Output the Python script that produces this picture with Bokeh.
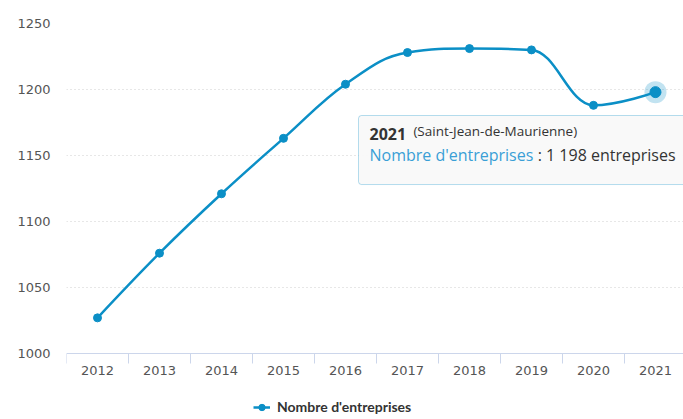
from bokeh.plotting import figure
from bokeh.models import (FixedTicker, Range1d, BoxAnnotation, Label, Legend, LegendItem,
                          ColumnDataSource)
from bokeh.embed import file_html
from bokeh.resources import INLINE

years = [2012, 2013, 2014, 2015, 2016, 2017, 2018, 2019, 2020, 2021]
entreprises = [1027, 1076, 1121, 1163, 1204, 1228, 1231, 1230, 1188, 1198]
y_ticks = [1000, 1050, 1100, 1150, 1200, 1250]
series_name = "Nombre d'entreprises"
commune = "(Saint-Jean-de-Maurienne)"
hover_year = 2021
hover_value = 1198
hover_text = ": 1 198 entreprises"

COLOR = "#0b8fc6"


def spline_controls(xs, ys, smoothing=1.5):
    """Highcharts-like spline control points computed from the data."""
    n = len(xs)
    denom = smoothing + 1
    left = [(xs[i], ys[i]) for i in range(n)]
    right = [(xs[i], ys[i]) for i in range(n)]
    for i in range(1, n - 1):
        lx, ly = xs[i - 1], ys[i - 1]
        px, py = xs[i], ys[i]
        nx, ny = xs[i + 1], ys[i + 1]
        lcx = (smoothing * px + lx) / denom
        lcy = (smoothing * py + ly) / denom
        rcx = (smoothing * px + nx) / denom
        rcy = (smoothing * py + ny) / denom
        if rcx != lcx:
            corr = ((rcy - lcy) * (rcx - px)) / (rcx - lcx) + py - rcy
            lcy += corr
            rcy += corr
        if lcy > ly and lcy > py:
            lcy = max(ly, py)
            rcy = 2 * py - lcy
        elif lcy < ly and lcy < py:
            lcy = min(ly, py)
            rcy = 2 * py - lcy
        if rcy > ny and rcy > py:
            rcy = max(ny, py)
            lcy = 2 * py - rcy
        elif rcy < ny and rcy < py:
            rcy = min(ny, py)
            lcy = 2 * py - rcy
        left[i] = (lcx, lcy)
        right[i] = (rcx, rcy)
    seg = dict(x0=[], y0=[], x1=[], y1=[], cx0=[], cy0=[], cx1=[], cy1=[])
    for i in range(1, n):
        seg["x0"].append(xs[i - 1]); seg["y0"].append(ys[i - 1])
        seg["x1"].append(xs[i]); seg["y1"].append(ys[i])
        seg["cx0"].append(right[i - 1][0]); seg["cy0"].append(right[i - 1][1])
        seg["cx1"].append(left[i][0]); seg["cy1"].append(left[i][1])
    return seg


# frame spans the full height; the x axis is pinned at the bottom value (1000)
p = figure(width=683, height=419, output_backend="svg", toolbar_location=None,
           x_range=Range1d(2011.5, 2021.452), y_range=Range1d(950, 1250),
           min_border_left=66, min_border_right=0, min_border_top=23, min_border_bottom=0)
p.outline_line_color = None
p.background_fill_color = "white"

# axes
xa = p.xaxis[0]
xa.fixed_location = y_ticks[0]
xa.ticker = FixedTicker(ticks=years, minor_ticks=[y - 0.5 for y in years] + [years[-1] + 0.5])
xa.major_tick_line_color = None
xa.major_tick_out = 0
xa.major_tick_in = 0
xa.minor_tick_line_color = "#ccd6eb"
xa.minor_tick_in = 0
xa.minor_tick_out = 10
xa.axis_line_color = "#ccd6eb"
xa.major_label_text_font = "DejaVu Sans"
xa.major_label_text_font_size = "13px"
xa.major_label_text_color = "#555555"
xa.major_label_standoff = 2

ya = p.yaxis[0]
ya.ticker = FixedTicker(ticks=y_ticks)
ya.axis_line_color = None
ya.major_tick_line_color = None
ya.major_tick_out = 0
ya.major_tick_in = 0
ya.minor_tick_line_color = None
ya.major_label_text_font = "DejaVu Sans"
ya.major_label_text_font_size = "13px"
ya.major_label_text_color = "#555555"
ya.major_label_standoff = 16

p.xgrid.grid_line_color = None
p.ygrid.ticker = FixedTicker(ticks=y_ticks[1:])
p.ygrid.grid_line_color = "#cfcfcf"
p.ygrid.grid_line_dash = "1 3"

seg = spline_controls(years, entreprises)
curve = p.bezier(x0="x0", y0="y0", x1="x1", y1="y1", cx0="cx0", cy0="cy0",
                 cx1="cx1", cy1="cy1", source=seg, line_color=COLOR, line_width=2.5)
src = ColumnDataSource(dict(x=years, y=entreprises))
pts = p.scatter("x", "y", source=src, size=8, fill_color=COLOR, line_color=COLOR)
# line renderer used only for the legend icon (no drawable values)
proxy = ColumnDataSource(dict(x=years, y=[float("nan")] * len(years)))
legend_line = p.line("x", "y", source=proxy, line_color=COLOR, line_width=2.5)

# hover highlight
p.scatter([hover_year], [hover_value], size=22, fill_color=COLOR, fill_alpha=0.25, line_color=None)
p.scatter([hover_year], [hover_value], size=11, fill_color=COLOR, line_color=COLOR)

# tooltip
box = BoxAnnotation(left=2016.21, right=2022.5, top=1180.3, bottom=1128.0,
                    fill_color="#f9f9f9", fill_alpha=0.95, line_color=COLOR,
                    line_width=1, border_radius=3)
p.add_layout(box)
p.add_layout(Label(x=2016.387, y=1161.4, text=str(hover_year), text_font="Open Sans",
                   text_font_style="bold", text_font_size="16px", text_color="#333333"))
p.add_layout(Label(x=2017.095, y=1161.4, text=commune, text_font="Open Sans",
                   text_font_size="13.5px", text_color="#333333"))
p.add_layout(Label(x=2016.387, y=1142.4, text=series_name, text_font="Open Sans",
                   text_font_size="16px", text_color="#3a9fd6"))
p.add_layout(Label(x=2019.10, y=1142.4, text=hover_text, text_font="Open Sans",
                   text_font_size="16px", text_color="#333333"))

legend = Legend(items=[LegendItem(label=series_name, renderers=[legend_line, pts])],
                location=(187, 4), orientation="horizontal",
                border_line_color=None, background_fill_alpha=0,
                padding=0, margin=0, glyph_width=17, glyph_height=16,
                label_height=16, label_standoff=7,
                label_text_font="Lato", label_text_font_style="bold",
                label_text_font_size="14px", label_text_color="#333333")
p.add_layout(legend)

open("out.html", "w").write(file_html(p, INLINE))
